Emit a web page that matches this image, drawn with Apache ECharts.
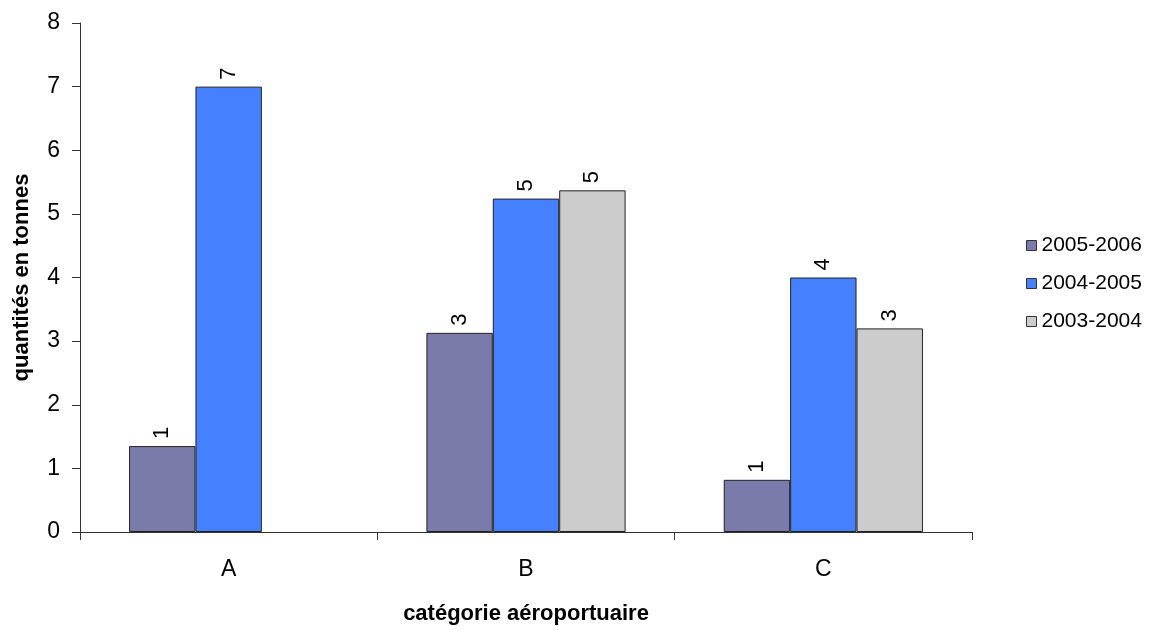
<!DOCTYPE html>
<html><head><meta charset="utf-8">
<script src="https://cdn.jsdelivr.net/npm/echarts@6/dist/echarts.min.js"></script>
<style>html,body{margin:0;padding:0;background:#fff}#c{width:1149px;height:630px}</style>
</head><body><div id="c"></div>
<script>
const categories = ['A', 'B', 'C'];
const seriesNames = ['2005-2006', '2004-2005', '2003-2004'];
const s2005_2006 = [1.35, 3.13, 0.82];
const s2004_2005 = [7.0, 5.24, 4.0];
const s2003_2004 = [null, 5.37, 3.2];
const yTicks = [0, 1, 2, 3, 4, 5, 6, 7, 8];

const colors = ['#7b7bab', '#4580ff', '#cccccc'];
const font = 'Liberation Sans, Arial, sans-serif';
const chart = echarts.init(document.getElementById('c'));
const dataSets = [s2005_2006, s2004_2005, s2003_2004];
chart.setOption({
  animation: false,
  textStyle: { fontFamily: font },
  grid: { left: 80, right: 177, top: 23, bottom: 89 },
  legend: {
    orient: 'vertical', left: 1021, top: 230, itemGap: 17,
    itemWidth: 10, itemHeight: 10, icon: 'rect',
    textStyle: { fontSize: 21, color: '#000', fontFamily: font },
    data: seriesNames.map((n, i) => ({ name: n, itemStyle: { borderColor: '#333', borderWidth: 1 } }))
  },
  xAxis: {
    type: 'category', data: categories,
    name: 'catégorie aéroportuaire', nameLocation: 'middle', nameGap: 71,
    nameTextStyle: { fontSize: 22, fontWeight: 'bold', color: '#000', fontFamily: font },
    axisLine: { lineStyle: { color: '#333', width: 1 } },
    axisTick: { show: true, length: 8, lineStyle: { color: '#333' } },
    axisLabel: { fontSize: 23, color: '#000', margin: 26, fontFamily: font }
  },
  yAxis: {
    type: 'value', min: 0, max: 8, interval: 1,
    name: 'quantités en tonnes', nameLocation: 'middle', nameGap: 47,
    nameTextStyle: { fontSize: 22, fontWeight: 'bold', color: '#000', fontFamily: font },
    axisLine: { show: true, lineStyle: { color: '#333', width: 1 } },
    axisTick: { show: true, length: 8, lineStyle: { color: '#333' } },
    axisLabel: { fontSize: 23, color: '#000', margin: 20, fontFamily: font,
      formatter: v => yTicks.includes(v) ? String(v) : '' },
    splitLine: { show: false }
  },
  series: dataSets.map((d, i) => ({
    name: seriesNames[i], type: 'bar', data: d,
    barCategoryGap: '33%', barGap: '0%',
    itemStyle: { color: colors[i], borderColor: '#222', borderWidth: 1 },
    label: {
      show: true, position: 'top', rotate: 90, align: 'left', verticalAlign: 'middle',
      distance: 7, fontSize: 22, color: '#000', fontFamily: font,
      formatter: p => p.value == null ? '' : String(Math.round(p.value))
    }
  }))
});
</script></body></html>
